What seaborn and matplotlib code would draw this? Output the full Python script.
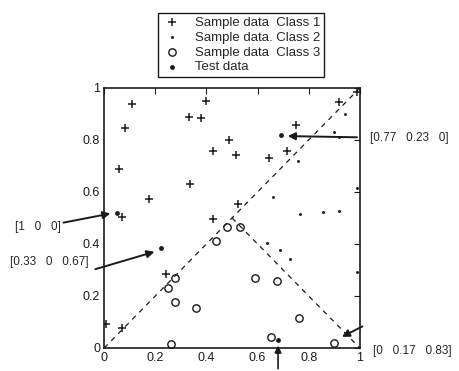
import matplotlib
matplotlib.use("Agg")
import matplotlib.pyplot as plt
import seaborn as sns
import pandas as pd

# sample data, class 1 (+)
c1_x = [0.108, 0.40, 0.33, 0.38, 0.082, 0.427, 0.059, 0.336, 0.176, 0.069, 0.427,
        0.242, 0.008, 0.069, 0.92, 0.75, 0.716, 0.646, 0.49, 0.516, 0.525, 0.99]
c1_y = [0.94, 0.95, 0.887, 0.883, 0.845, 0.758, 0.687, 0.63, 0.572, 0.503, 0.496,
        0.285, 0.091, 0.076, 0.945, 0.858, 0.759, 0.729, 0.80, 0.742, 0.553, 0.985]
# sample data, class 2 (.)
c2_x = [0.94, 0.90, 0.92, 0.76, 0.661, 0.765, 0.857, 0.919, 0.635, 0.6875, 0.727, 0.987, 0.99]
c2_y = [0.90, 0.832, 0.81, 0.72, 0.582, 0.515, 0.522, 0.525, 0.403, 0.377, 0.341, 0.293, 0.615]
# sample data, class 3 (o)
c3_x = [0.479, 0.53, 0.4375, 0.277, 0.249, 0.277, 0.359, 0.26, 0.59, 0.674, 0.762, 0.652, 0.898]
c3_y = [0.467, 0.465, 0.41, 0.268, 0.23, 0.178, 0.153, 0.014, 0.27, 0.258, 0.117, 0.044, 0.02]
# test data
t_x = [0.05, 0.223, 0.69, 0.678]
t_y = [0.52, 0.386, 0.819, 0.031]

# dashed class borders
diag_x = [0, 1]
diag_y = [0, 1]
anti_x = [0.5, 1]
anti_y = [0.5, 0]

ticks = [0, 0.2, 0.4, 0.6, 0.8, 1]
tick_labels = ["0", "0.2", "0.4", "0.6", "0.8", "1"]

# membership labels: text, text pos, arrow start, arrow tip
labels = [
    ("[1   0   0]", (-0.35, 0.465), (-0.17, 0.48), (0.035, 0.519)),
    ("[0.33   0   0.67]", (-0.37, 0.33), (-0.045, 0.30), (0.207, 0.373)),
    ("[0.77   0.23   0]", (1.04, 0.808), (1.0, 0.81), (0.707, 0.815)),
    ("[0   0.17   0.83]", (1.05, -0.01), (1.02, 0.088), (0.92, 0.038)),
]
bottom_arrow = ((0.68, -0.09), (0.68, 0.02))

sns.set_theme(style="white")
plt.rcParams["font.family"] = ["Liberation Sans", "DejaVu Sans"]

fig = plt.figure(figsize=(4.59, 3.71), dpi=100)
ax = fig.add_axes([0.227, 0.062, 0.557, 0.701])

sns.lineplot(x=diag_x, y=diag_y, ax=ax, color="k", lw=0.9, linestyle=(0, (4, 4)))
sns.lineplot(x=anti_x, y=anti_y, ax=ax, color="k", lw=0.9, linestyle=(0, (4, 4)))

sns.scatterplot(x=c1_x, y=c1_y, ax=ax, marker="+", s=34, color="k", linewidth=1.1,
                label="Sample data  Class 1")
sns.scatterplot(x=c2_x, y=c2_y, ax=ax, marker=".", s=18, color="k", linewidth=0,
                label="Sample data. Class 2")
sns.scatterplot(x=c3_x, y=c3_y, ax=ax, marker="o", s=28, facecolor="white",
                edgecolor="k", linewidth=1.0, label="Sample data  Class 3")
sns.scatterplot(x=t_x, y=t_y, ax=ax, marker="o", s=12, color="k", linewidth=0,
                label="Test data")

for txt, pos, start, tip in labels:
    ax.text(pos[0], pos[1], txt, fontsize=8.5, va="center", ha="left", clip_on=False)
    ax.annotate("", xy=tip, xytext=start, annotation_clip=False,
                arrowprops=dict(arrowstyle="-|>", color="k", lw=1.4, mutation_scale=11))
ax.annotate("", xy=bottom_arrow[1], xytext=bottom_arrow[0], annotation_clip=False,
            arrowprops=dict(arrowstyle="-|>", color="k", lw=1.2, mutation_scale=10))

ax.set_xlim(0, 1)
ax.set_ylim(0, 1)
ax.set_xticks(ticks)
ax.set_xticklabels(tick_labels)
ax.set_yticks(ticks)
ax.set_yticklabels(tick_labels)
ax.tick_params(direction="in", length=4, width=0.8, top=True, right=True,
               labelsize=9, colors="k", pad=3)
for s in ax.spines.values():
    s.set_color("k")
    s.set_linewidth(1.2)

leg = ax.legend(loc="lower center", bbox_to_anchor=(0.535, 1.015), fontsize=9.5,
                frameon=True, fancybox=False, edgecolor="k", framealpha=1,
                handletextpad=1.0, labelspacing=0.2, borderpad=0.3, handlelength=1.5)
leg.get_frame().set_linewidth(1.0)

fig.savefig("out.png", dpi=100)
